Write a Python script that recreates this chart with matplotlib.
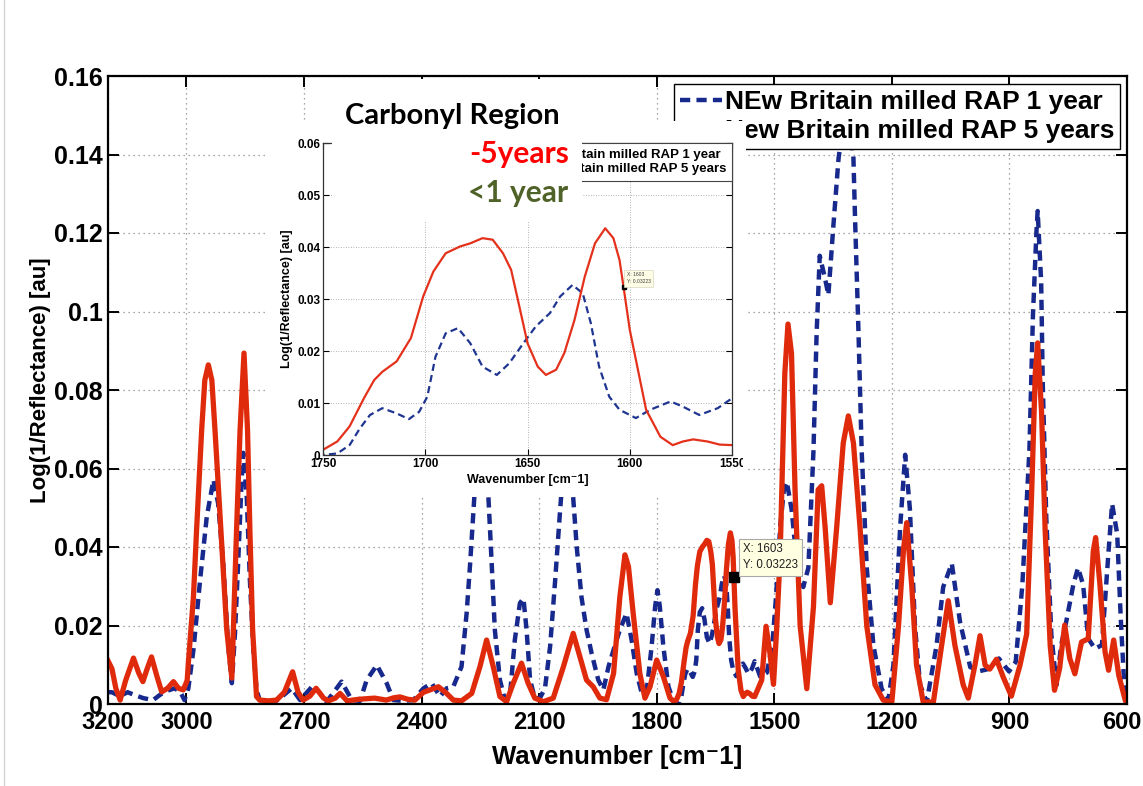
import matplotlib
matplotlib.use("Agg")
import matplotlib.pyplot as plt
from matplotlib import font_manager as fm
from matplotlib.patches import Rectangle
from matplotlib.lines import Line2D
from matplotlib.transforms import Bbox, TransformedBbox, ScaledTranslation

# ---------------------------------------------------------------- data
# Wavenumber [cm-1] and log(1/R) for the 1-year-old milled RAP
wn_1yr = [3200, 3190, 3170, 3150, 3130, 3110, 3085, 3065, 3045, 3030, 3015, 3005,
          2995, 2982, 2965, 2948, 2931, 2919, 2906, 2893, 2884, 2876, 2868, 2859,
          2855, 2846, 2838, 2829, 2821, 2813, 2790, 2771, 2755, 2731, 2710, 2676,
          2642, 2604, 2578, 2557, 2540, 2514, 2489, 2472, 2446, 2421, 2395, 2374,
          2353, 2336, 2319, 2298, 2285, 2276, 2268, 2262, 2250, 2240, 2232, 2221,
          2213, 2200, 2187, 2174, 2162, 2149, 2140, 2132, 2123, 2111, 2098, 2085,
          2072, 2059, 2047, 2040, 2028, 2018, 2013, 2004, 1992, 1979, 1966, 1949,
          1936, 1923, 1910, 1894, 1877, 1864, 1851, 1838, 1826, 1813, 1804, 1798,
          1792, 1783, 1770, 1758, 1750, 1743, 1737, 1732, 1727, 1721, 1714, 1708,
          1703, 1699, 1695, 1690, 1684, 1678, 1672, 1665, 1659, 1652, 1646, 1639,
          1634, 1628, 1623, 1619, 1615, 1610, 1605, 1597, 1590, 1580, 1574, 1566,
          1557, 1550, 1536, 1519, 1505, 1495, 1485, 1475, 1468, 1456, 1443, 1426,
          1413, 1400, 1392, 1384, 1370, 1362, 1349, 1336, 1325, 1315, 1305, 1298,
          1294, 1285, 1277, 1264, 1247, 1226, 1209, 1196, 1179, 1166, 1154, 1141,
          1128, 1111, 1086, 1069, 1047, 1026, 1000, 975, 950, 927, 901, 884, 867,
          849, 840, 831, 828, 819, 815, 806, 793, 780, 768, 755, 737, 725, 712, 699,
          682, 664, 647, 638, 625, 616, 607, 600]
abs_1yr = [0.003, 0.003, 0.002, 0.003, 0.0022, 0.0015, 0.001, 0.0025, 0.0035, 0.004,
           0.003, 0.001, 0.004, 0.0138, 0.0316, 0.0477, 0.0571, 0.0511, 0.0358, 0.0146,
           0.0053, 0.018, 0.0358, 0.0571, 0.064, 0.0528, 0.0316, 0.0138, 0.0036, 0.001,
           0.0005, 0.0008, 0.002, 0.004, 0.001, 0.0048, 0.0006, 0.0057, 0.001, 0.0008,
           0.0061, 0.0099, 0.0053, 0.001, 0.0008, 0.001, 0.004, 0.0053, 0.0019, 0.004,
           0.0044, 0.0095, 0.0231, 0.0358, 0.0486, 0.058, 0.068, 0.066, 0.058, 0.0358,
           0.0189, 0.0061, 0.001, 0.0027, 0.0163, 0.0257, 0.0269, 0.0189, 0.0061, 0.0015,
           0.0015, 0.004, 0.0146, 0.0316, 0.0486, 0.058, 0.064, 0.058, 0.0525, 0.040,
           0.0273, 0.0189, 0.0129, 0.0061, 0.0036, 0.0095, 0.0138, 0.0189, 0.0231, 0.0163,
           0.0078, 0.0027, 0.003, 0.0146, 0.0248, 0.029, 0.0248, 0.0146, 0.0044, 0.001,
           0.0, 0.0003, 0.0019, 0.0051, 0.0077, 0.009, 0.008, 0.0069, 0.0083, 0.0112,
           0.0189, 0.0234, 0.0244, 0.0215, 0.017, 0.0154, 0.0176, 0.0215, 0.0247, 0.0273,
           0.0305, 0.0327, 0.0311, 0.0253, 0.017, 0.0112, 0.0087, 0.0071, 0.0087, 0.0103,
           0.0093, 0.0077, 0.009, 0.0109, 0.007, 0.008, 0.015, 0.028, 0.045, 0.055,
           0.0566, 0.0497, 0.0367, 0.0298, 0.0347, 0.0645, 0.0943, 0.1142, 0.1082, 0.1042,
           0.1221, 0.139, 0.147, 0.149, 0.146, 0.139, 0.1241, 0.0943, 0.0645, 0.0347,
           0.0149, 0.0039, 0.001, 0.0099, 0.0447, 0.0635, 0.0497, 0.0199, 0.0049, 0.0005,
           0.0149, 0.0298, 0.0358, 0.0209, 0.0094, 0.0084, 0.009, 0.0116, 0.0083, 0.0107,
           0.0304, 0.0647, 0.099, 0.1204, 0.1256, 0.1075, 0.0818, 0.0476, 0.0176, 0.0048,
           0.015, 0.021, 0.0304, 0.0347, 0.0304, 0.0167, 0.0141, 0.015, 0.039, 0.051,
           0.0433, 0.0219, 0.0048, 0.0008]

# Wavenumber [cm-1] and log(1/R) for the 5-year-old milled RAP
wn_5yr = [3200, 3190, 3180, 3169, 3155, 3135, 3122, 3111, 3100, 3089, 3075, 3063,
          3048, 3033, 3020, 3008, 2998, 2995, 2982, 2974, 2961, 2953, 2944, 2935,
          2927, 2912, 2897, 2884, 2872, 2863, 2853, 2844, 2838, 2831, 2821, 2813,
          2790, 2770, 2750, 2729, 2715, 2702, 2685, 2669, 2650, 2638, 2620, 2608,
          2590, 2560, 2520, 2490, 2470, 2455, 2435, 2417, 2395, 2378, 2357, 2336,
          2319, 2298, 2272, 2251, 2234, 2217, 2200, 2183, 2166, 2145, 2128, 2111,
          2089, 2064, 2038, 2013, 1996, 1979, 1962, 1945, 1928, 1910, 1894, 1881,
          1872, 1860, 1843, 1830, 1817, 1800, 1783, 1766, 1758, 1750, 1743, 1737,
          1730, 1725, 1721, 1714, 1707, 1701, 1696, 1690, 1683, 1678, 1672, 1667,
          1662, 1658, 1654, 1650, 1645, 1641, 1636, 1632, 1627, 1622, 1617, 1612,
          1608, 1605, 1603, 1600, 1596, 1592, 1585, 1579, 1574, 1569, 1562, 1556,
          1550, 1532, 1521, 1511, 1502, 1494, 1485, 1473, 1465, 1456, 1447, 1434,
          1417, 1400, 1388, 1379, 1370, 1357, 1341, 1324, 1311, 1298, 1281, 1264,
          1243, 1222, 1200, 1183, 1170, 1162, 1149, 1137, 1120, 1094, 1073, 1056,
          1039, 1018, 1005, 988, 975, 962, 950, 933, 916, 895, 873, 856, 843, 834,
          828, 818, 809, 796, 785, 772, 759, 746, 733, 716, 699, 686, 680, 669, 656,
          647, 634, 621, 604, 600]
abs_5yr = [0.011, 0.009, 0.004, 0.001, 0.006, 0.0117, 0.008, 0.0057, 0.009, 0.012,
           0.007, 0.0031, 0.004, 0.0057, 0.004, 0.0036, 0.006, 0.0104, 0.0273, 0.0443,
           0.0698, 0.0825, 0.0864, 0.0825, 0.0698, 0.0443, 0.0189, 0.0066, 0.0443, 0.0698,
           0.0894, 0.0698, 0.0443, 0.0189, 0.0019, 0.001, 0.0008, 0.001, 0.003, 0.0082,
           0.003, 0.001, 0.002, 0.004, 0.0015, 0.0008, 0.0015, 0.0027, 0.0008, 0.0012,
           0.0015, 0.001, 0.0016, 0.0018, 0.0012, 0.001, 0.003, 0.0036, 0.0044, 0.0027,
           0.001, 0.0008, 0.0027, 0.0095, 0.0163, 0.0095, 0.0019, 0.0006, 0.0053, 0.0104,
           0.0053, 0.0015, 0.0006, 0.0015, 0.0095, 0.018, 0.012, 0.0061, 0.0044, 0.0015,
           0.0011, 0.0078, 0.0273, 0.038, 0.035, 0.0231, 0.0078, 0.0015, 0.0044, 0.0112,
           0.007, 0.0015, 0.0008, 0.001, 0.0026, 0.0055, 0.0109, 0.0144, 0.016, 0.018,
           0.0225, 0.0305, 0.0353, 0.0388, 0.0401, 0.0407, 0.0417, 0.0414, 0.0388, 0.0356,
           0.0286, 0.0215, 0.017, 0.0154, 0.0164, 0.0196, 0.026, 0.0343, 0.0407, 0.0436,
           0.0417, 0.0375, 0.03223, 0.0241, 0.0164, 0.0087, 0.0035, 0.0019, 0.0026, 0.003,
           0.0026, 0.002, 0.0019, 0.0061, 0.0198, 0.0129, 0.005, 0.0189, 0.038, 0.0844,
           0.0968, 0.0893, 0.0546, 0.0199, 0.0039, 0.0248, 0.0546, 0.0556, 0.0447, 0.0258,
           0.0447, 0.0665, 0.0734, 0.0665, 0.0447, 0.0199, 0.0049, 0.001, 0.0005, 0.0199,
           0.0397, 0.0462, 0.0298, 0.0099, 0.0005, 0.0005, 0.0149, 0.0263, 0.0149, 0.0049,
           0.0015, 0.0099, 0.0174, 0.0099, 0.0089, 0.0114, 0.0069, 0.002, 0.0099, 0.0178,
           0.0546, 0.0844, 0.092, 0.0744, 0.0447, 0.0149, 0.0035, 0.009, 0.0201, 0.0116,
           0.0077, 0.0158, 0.0166, 0.039, 0.0424, 0.0304, 0.0133, 0.0086, 0.0163, 0.0073,
           0.0008, 0.0005]

label_1yr = "NEw Britain milled RAP 1 year"
label_5yr = "New Britain milled RAP 5 years"

main_xticks = [3200, 3000, 2700, 2400, 2100, 1800, 1500, 1200, 900, 600]
main_yticks = [0, 0.02, 0.04, 0.06, 0.08, 0.1, 0.12, 0.14, 0.16]
main_ytick_labels = ["0", "0.02", "0.04", "0.06", "0.08", "0.1", "0.12", "0.14", "0.16"]
inset_xticks = [1750, 1700, 1650, 1600, 1550]
inset_yticks = [0, 0.01, 0.02, 0.03, 0.04, 0.05, 0.06]
inset_ytick_labels = ["0", "0.01", "0.02", "0.03", "0.04", "0.05", "0.06"]

tip_x, tip_y = 1603, 0.03223

# ---------------------------------------------------------------- style
W, H, DPI = 1143, 786, 100
installed = {f.name for f in fm.fontManager.ttflist}
SANS = ["Liberation Sans", "DejaVu Sans"]
CALLOUT = ["Lato", "DejaVu Sans"] if "Lato" in installed else ["DejaVu Sans"]
plt.rcParams["font.family"] = SANS

BLUE = "#17298c"
RED = "#e02a0c"
INSET_BLUE = "#1f3590"
INSET_RED = "#e4311c"
GRID = "#8a8a8a"


def fx(px):
    return px / W


def fy(py):
    return 1 - py / H


fig = plt.figure(figsize=(W / DPI, H / DPI), dpi=DPI)
fig.patch.set_facecolor("white")

# faint slide border on the far left
fig.add_artist(Line2D([fx(4), fx(4)], [0, 1], transform=fig.transFigure,
                      color="#d4d4d4", lw=1.0))

# ---------------------------------------------------------------- main axes
ax = fig.add_axes([fx(108), fy(704), (1127 - 108) / W, (704 - 76) / H], zorder=0)
ax.plot(wn_1yr, abs_1yr, color=BLUE, lw=3.2, dashes=(2.3, 1.4),
        dash_capstyle="butt", label=label_1yr)
ax.plot(wn_5yr, abs_5yr, color=RED, lw=3.8, solid_joinstyle="round",
        label=label_5yr)
ax.set_xlim(3200, 600)
ax.set_ylim(0, 0.16)
ax.set_xticks(main_xticks)
ax.set_xticklabels([str(t) for t in main_xticks], weight="bold", fontsize=17)
ax.set_yticks(main_yticks)
ax.set_yticklabels(main_ytick_labels, weight="bold", fontsize=18)
ax.tick_params(direction="in", length=8, width=1.4, top=True, right=True, pad=4)
ax.tick_params(axis="x", pad=5)
ax.grid(True, linestyle=(0, (1, 3)), color=GRID, lw=0.9)
for s in ax.spines.values():
    s.set_linewidth(1.6)
# keep the last wavenumber label inside the page
last = ax.get_xticklabels()[-1]
last.set_transform(last.get_transform() + ScaledTranslation(-5 / DPI, 0, fig.dpi_scale_trans))

ax.set_xlabel("Wavenumber [cm\u207b1]", weight="bold", fontsize=18.5)
ax.xaxis.set_label_coords(0.5, -0.066)
ax.set_ylabel("Log(1/Reflectance) [au]", weight="bold", fontsize=16)
ax.yaxis.set_label_coords(-0.056, 0.515)

# data tip on the 5-year curve
ax.plot([tip_x], [tip_y], "s", color="black", ms=6.5, zorder=6)
ax.annotate(f"X: {tip_x}\nY: {tip_y}", xy=(tip_x, tip_y), xytext=(9, 6),
            textcoords="offset pixels", ha="left", va="bottom", fontsize=8.3,
            color="#202020", linespacing=1.45, zorder=7,
            bbox=dict(boxstyle="square,pad=0.35", fc="#ffffe1", ec="#a8a8a8", lw=0.8))

leg = ax.legend(loc="upper right", bbox_to_anchor=(fx(1120), fy(84)),
                bbox_transform=fig.transFigure, borderaxespad=0,
                prop=dict(family=SANS, weight="bold", size=19), frameon=True,
                fancybox=False, edgecolor="black", framealpha=1,
                handlelength=1.6, handletextpad=0.1, borderpad=0.22,
                labelspacing=0.2)
leg.get_frame().set_linewidth(1.0)

# ---------------------------------------------------------------- carbonyl inset
fig.add_artist(Rectangle((fx(265), fy(497)), (746 - 265) / W, (497 - 121) / H,
                         transform=fig.transFigure, fc="white", ec="none", zorder=1))

axi = fig.add_axes([fx(323), fy(455), (732 - 323) / W, (455 - 143) / H], zorder=2)
axi.plot(wn_1yr, abs_1yr, color=INSET_BLUE, lw=1.6, dashes=(3.2, 1.9),
         dash_capstyle="butt", label=label_1yr)
axi.plot(wn_5yr, abs_5yr, color=INSET_RED, lw=1.6, label=label_5yr)
axi.set_xlim(1750, 1550)
axi.set_ylim(0, 0.06)
axi.set_xticks(inset_xticks)
axi.set_xticklabels([str(t) for t in inset_xticks], weight="bold", fontsize=8.5)
axi.set_yticks(inset_yticks)
axi.set_yticklabels(inset_ytick_labels, weight="bold", fontsize=8.5)
axi.tick_params(direction="in", length=4, width=0.8, top=True, right=True, pad=2)
axi.grid(True, linestyle=(0, (1, 2)), color="#9a9a9a", lw=0.6)
for s in axi.spines.values():
    s.set_linewidth(0.9)
    s.set_color("#333333")
axi.set_xlabel("Wavenumber [cm\u207b1]", weight="bold", fontsize=9, labelpad=3)
axi.set_ylabel("Log(1/Reflectance) [au]", weight="bold", fontsize=9, labelpad=3)

axi.plot([tip_x], [tip_y], "s", color="black", ms=2.8, zorder=6)
axi.annotate(f"X: {tip_x}\nY: {tip_y}", xy=(tip_x, tip_y), xytext=(3, 3),
             textcoords="offset pixels", ha="left", va="bottom", fontsize=3.6,
             color="#404040", linespacing=1.5, zorder=7,
             bbox=dict(boxstyle="square,pad=0.5", fc="#fdfde6", ec="#d8d8c0", lw=0.5))

ileg = axi.legend(loc="upper right", borderaxespad=0,
                  prop=dict(family=SANS, weight="bold", size=9.5), frameon=True,
                  fancybox=False, edgecolor="#444444", framealpha=1,
                  handlelength=2.4, handletextpad=0.4, borderpad=0.4,
                  labelspacing=0.2)
ileg.get_frame().set_linewidth(0.8)

# the pasted inset picture ends just right of the 1550 label
clip = TransformedBbox(Bbox.from_extents(fx(265), fy(497), fx(743), fy(121)),
                       fig.transFigure)
for lbl in axi.get_xticklabels() + axi.get_yticklabels():
    lbl.set_clip_box(clip)
    lbl.set_clip_on(True)

# ---------------------------------------------------------------- callout text
fig.add_artist(Rectangle((fx(332), fy(222)), (582 - 332) / W, (222 - 79) / H,
                         transform=fig.transFigure, fc="white", ec="none", zorder=3))
fig.text(fx(345), fy(124), "Carbonyl Region", family=CALLOUT, weight="bold",
         fontsize=21, color="black", ha="left", va="baseline", zorder=4)
fig.text(fx(569), fy(163), "-5years", family=CALLOUT, weight="bold",
         fontsize=21.5, color="#ff0000", ha="right", va="baseline", zorder=4)
fig.text(fx(568), fy(202), "<1 year", family=CALLOUT, weight="bold",
         fontsize=21.5, color="#4f6228", ha="right", va="baseline", zorder=4)

fig.savefig("out.png", dpi=DPI, facecolor="white")
